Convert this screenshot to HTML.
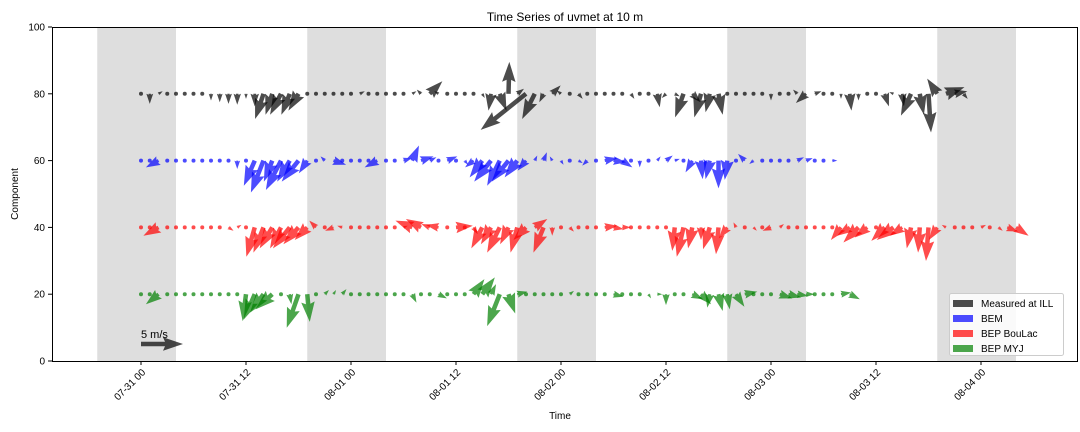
<!DOCTYPE html>
<html><head><meta charset="utf-8"><style>
html,body{margin:0;padding:0;background:#fff;}
svg{display:block;font-family:"Liberation Sans",sans-serif;}
</style></head><body>
<svg id="chart" width="1080" height="432"></svg>
<script>
const seriesNames=["Measured at ILL","BEM","BEP BouLac","BEP MYJ"];
const seriesBase=[80,60,40,20];
const seriesColors=["rgba(0,0,0,0.7)","rgba(0,0,255,0.7)","rgba(255,0,0,0.7)","rgba(0,128,0,0.7)"];
const tickLabels=["07-31 00","07-31 12","08-01 00","08-01 12","08-02 00","08-02 12","08-03 00","08-03 12","08-04 00"];
const yTicks=[0,20,40,60,80,100];
const nightStartHours=[-5,19,43,67,91];
const nightLength=9;
const uBlack=[0,0,0.5,0,0,0,-0.3,0,0,0,0,0,0,0,-1,-0.8,-1.3,-1,-1.2,-0.3,0,0,0,-0.2,0,0.6,0,-0.3,0,0,0,0.5,-0.5,1.5,-0.5,0.3,0,-0.4,0,0.3,-0.3,0.8,0.1,0.8,-5.4,-1.5,-0.5,1,-0.5,0,0.5,0,0,0.4,0,0,0.4,0,-0.4,0.3,-0.5,0.6,-1,1,-0.8,-0.5,0.5,-0.3,0.3,0,0,0,0,0,0,-0.5,-1.2,0.8,0,0,0,0.2,0,0,0,0.5,-0.5,0.2,-1.2,0.5,0.3,-1.2,2.2,1.5,0.5];
const vBlack=[0,-1.2,0.3,0,0,0,0,0,-0.8,-1,-1.2,-1.3,-0.6,-1.5,-3,-2.5,-2.5,-2.5,-2,0.4,0,0,0,0.4,0,0.3,0,0.4,0,0,0,0.3,0.5,1.5,0.3,0,0,0,-0.4,-0.5,-2,-2,3.8,0.6,-4.3,-3,-1,1,0.4,0,-0.6,0,0,0.2,0,0,-0.6,0,0,-1.6,-0.5,-0.3,-2.8,-1,-2.8,-2.2,-2.5,0.4,-0.2,0,0,0,-0.8,0,0,0.5,-1.1,0.3,0,0,-0.6,-2,-0.8,0,0.4,-1.5,0.2,-1.5,-2.6,-2.5,-4.6,1.8,0.8,0.3,-0.6];
const uBEM=[0,0,-1.5,0.4,0,0,0,0,0,0.2,0.2,0,0,-1.3,-1.5,-1,-1.8,-1.5,-2,-1,0,-0.5,1.5,0.4,0,0.3,0,-1.5,0.3,0,1,0.8,1.5,0.8,0,1.2,-0.4,0.4,-1,-1.5,-2,-1.5,-2,-1.5,-1,0.3,0.4,-0.3,0.3,0,0.5,-0.6,0,1.5,1.5,1.2,0,0,0,0.4,0.8,0.6,0.3,-0.8,0.2,-0.5,0,-0.3,0.3,-0.8,-0.5,0,0,0,0.2,0.8,0.8,0,0,0.6];
const vBEM=[0,0,-0.8,0.2,0,0,0,0,0,-0.2,-0.4,-1,-0.3,-3,-3.8,-2.5,-3.5,-2.5,-2.5,-1.5,0,0.5,-0.5,0,0,-0.4,0,-0.8,0,0,0.3,1.8,0.5,0.4,0,0.5,0.2,-0.5,-0.8,-2,-2.5,-3,-2.5,-2,-1.2,0.6,1,0.5,-0.5,0,-0.3,-0.6,0,0.3,-0.2,-0.8,0.2,-0.8,-0.4,0.5,0.6,0.2,-0.2,-1.4,-2.2,-2.2,-3.3,-2.3,0,0.8,-0.4,0,0,0,-0.3,0.4,0.3,0,0,0];
const uBouLac=[0,0,-1.8,0.4,0,0,0,0,0.2,0,0.6,0.5,0,-1,-1.2,-1.5,-1.3,-2,-1.8,-1.5,-0.8,0,-1,-0.6,0,0.2,0,0,0,0,0.5,-2,-1.8,-1,-1.5,0.5,2,0.3,0.5,-1.3,-1.2,-1.5,-1,-0.8,-1.5,1.5,-1.2,0,0,0.5,0,0.3,0,1.5,1.2,1,0,0.2,0,0,0,-0.3,-0.8,-0.5,0,-0.8,-0.3,-1,-0.3,0.3,0.4,0,-1,0.5,0,0,0,0,0,0,-1.2,-1.5,-1.8,-1.5,0,-1.6,-2,-1.5,-0.5,-0.2,-0.3,-1,-0.5,0,0.4,0,0.6,0,0.5,1.3,1.5];
const vBouLac=[0,0,-1,0.3,0,0,0,0,-0.3,0,-0.4,0.3,0,-3.5,-3,-2.5,-2.5,-2.5,-2,-1.5,0.8,0,-0.4,0.2,0,0.3,0,0,0,0,0.2,0.8,1,0.4,0.3,0,0.2,-0.4,-0.8,-2.5,-2,-3,-2,-3,-1.5,1,-3,-1,0,-0.5,0,0.3,0,0.2,-0.2,0,-0.5,-0.3,0,0,0,-2.8,-3.5,-2.5,-1.5,-2.6,-3.2,-1.3,0.6,-0.3,-0.4,0,-0.4,0.4,0,0,0,0,0,0,-1.5,-1,-1.8,-1.2,0,-1.6,-1.5,-1,-2.5,-3,-4,-1.5,0.3,0,0.2,0,0.3,0,-0.4,-0.5,-1];
const uMYJ=[0,0,-1.5,0.4,0,0,0,0,0,0.3,0,0,-0.4,-1.3,-1.6,-2,0,0.2,-1.4,0.3,0,0.5,0.3,0.5,0,0.5,0,0,0,0,0,0.5,0,0.2,1,0,0,0.3,1.3,1.5,0.6,-1.5,0.8,1.2,0,0.3,0,0.3,0,0.5,0,0,0.5,0,1.2,0,0.2,0,0.3,0.6,0,-0.2,0,1.3,1.2,-0.3,0.5,0.3,1,1.5,0,0,0.2,1.5,1.5,1.3,1,0,0,0.1,1.2,1.2];
const vMYJ=[0,0,-1.2,0.2,0,0,0,0,0,0,0,0,-3.2,-3,-2.2,-1.8,0,-1.2,-4,-3.3,0,0.5,0.5,0.6,0,0.1,0,0,0,0,0,-1,0,0.4,-0.5,0,0,0.3,1.8,2,1.2,-3.8,-2.3,0.3,0,0,0,-0.2,0,0.4,0,0,0,0,-0.3,0,-0.4,0,-0.5,0,-1.3,0.3,0,-0.6,-1.2,-1.6,-2,-1.8,-1.5,0.3,0,0,-0.2,-0.5,-0.4,-0.2,0,0,0,-0.4,0.2,-0.6];
const seriesU=[uBlack,uBEM,uBouLac,uMYJ];
const seriesV=[vBlack,vBEM,vBouLac,vMYJ];
const keySpeed=5;

const NS="http://www.w3.org/2000/svg";
const svg=document.getElementById('chart');
const L=52,R=1078,T=27,B=361;
const x=h=>141+h*8.75;
const y=v=>B-(v/100)*(B-T);
const pxPerMs=8.4;
function mk(tag,attrs,parent){const e=document.createElementNS(NS,tag);for(const k in attrs)e.setAttribute(k,attrs[k]);(parent||svg).appendChild(e);return e;}

const bands=mk('g',{});


nightStartHours.forEach(h=>{
  const r=mk('rect',{x:Math.max(L,x(h)),y:T,width:x(h+nightLength)-Math.max(L,x(h)),height:B-T,fill:'#dedede'},bands);
  
  
});

const W=4.5,HW=13.5,HL=20,HAL=18;
function arrow(px,py,u,v,color,parent){
  const dx=u*pxPerMs,dy=-v*pxPerMs;
  const len=Math.hypot(dx,dy);
  if(len<W){const c=mk('circle',{cx:px,cy:py,r:2,fill:color},parent);return c;}
  let s=1,Lr=len;
  if(len<HL){s=len/HL;Lr=HL;}
  const pts=[[0,-W/2],[Lr-HAL,-W/2],[Lr-HL,-HW/2],[Lr,0],[Lr-HL,HW/2],[Lr-HAL,W/2],[0,W/2]];
  const ang=Math.atan2(dy,dx),ca=Math.cos(ang),sa=Math.sin(ang);
  const p=pts.map(([a,b])=>{a*=s;b*=s;return (px+a*ca-b*sa).toFixed(2)+','+(py+a*sa+b*ca).toFixed(2);}).join(' ');
  return mk('polygon',{points:p,fill:color},parent);
}
seriesNames.forEach((n,si)=>{
  const g=mk('g',{});
  
  
  seriesU[si].forEach((u,i)=>{
    const a=arrow(x(i),y(seriesBase[si]),u,seriesV[si][i],seriesColors[si],g);
    
    
  });
});

const kl=mk('text',{x:141,y:338,'font-size':11,fill:'#000'});kl.textContent=keySpeed+' m/s';


const ka=arrow(141,344,keySpeed,0,'rgba(0,0,0,0.7)',svg);



const fr=mk('rect',{x:L+0.5,y:T+0.5,width:R-L-1,height:B-T,fill:'none',stroke:'#000','stroke-width':1});



yTicks.forEach(t=>{
  mk('line',{x1:L-4,x2:L,y1:y(t),y2:y(t),stroke:'#000'});
  const tx=mk('text',{x:L-7,y:y(t)+3.5,'font-size':10,'text-anchor':'end'});tx.textContent=t;
  
  
});
tickLabels.forEach((lab,i)=>{
  const xx=x(i*12);
  mk('line',{x1:xx,x2:xx,y1:B,y2:B+4,stroke:'#000'});
  const tx=mk('text',{x:xx+5,y:B+12,'font-size':10,'text-anchor':'end',transform:`rotate(-45 ${xx+5} ${B+12})`});tx.textContent=lab;
  
  
});
const title=mk('text',{x:565,y:21,'font-size':12,'text-anchor':'middle'});title.textContent='Time Series of uvmet at 10 m';


const xt=mk('text',{x:560,y:419,'font-size':10,'text-anchor':'middle'});xt.textContent='Time';


const yt=mk('text',{x:18,y:194,'font-size':10,'text-anchor':'middle',transform:'rotate(-90 18 194)'});yt.textContent='Component';



const lg=mk('g',{});


mk('rect',{x:949.5,y:293.5,width:114,height:62,rx:2,fill:'rgba(255,255,255,0.85)',stroke:'#ccc'},lg);
seriesNames.forEach((n,i)=>{
  const yy=300+i*15;
  mk('rect',{x:953,y:yy,width:20,height:7,fill:seriesColors[i]},lg);
  const t=mk('text',{x:981,y:yy+7,'font-size':10},lg);t.textContent=n;
  
  
});
</script>
</body></html>
